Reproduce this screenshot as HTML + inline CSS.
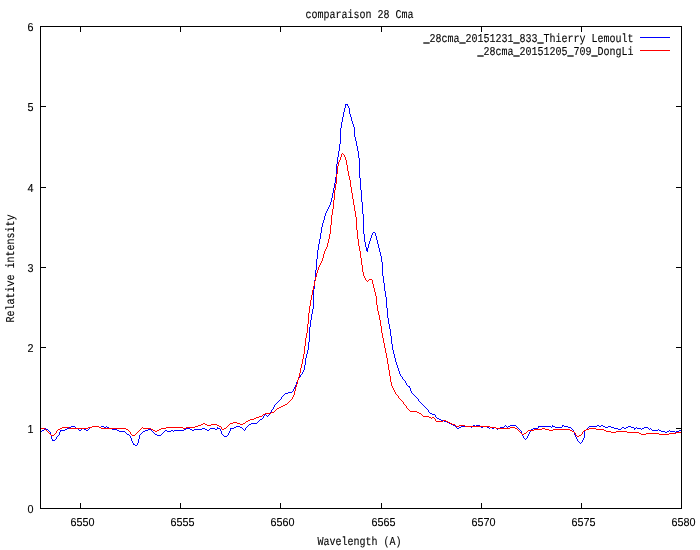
<!DOCTYPE html>
<html lang="fr"><head><meta charset="utf-8"><title>comparaison 28 Cma</title>
<style>
html,body{margin:0;padding:0;background:#fff;}
body{width:700px;height:550px;overflow:hidden;}
svg{display:block;}
text{font-family:"Liberation Mono",monospace;font-size:12px;fill:#000;stroke:#000;stroke-width:.1px;text-rendering:geometricPrecision;}
.u{stroke-width:.45px;}
.n{font-family:"Liberation Sans",sans-serif;font-size:11.5px;}
</style></head><body>
<svg width="700" height="550" viewBox="0 0 700 550">
<rect width="700" height="550" fill="#fff"/>

<path fill="#000" shape-rendering="crispEdges" d="M80,503h1v5h-1zM80,27h1v5h-1zM180,503h1v5h-1zM180,27h1v5h-1zM280,503h1v5h-1zM280,27h1v5h-1zM381,503h1v5h-1zM381,27h1v5h-1zM481,503h1v5h-1zM481,27h1v5h-1zM581,503h1v5h-1zM581,27h1v5h-1zM41,428h5v1h-5zM676,428h5v1h-5zM41,347h5v1h-5zM676,347h5v1h-5zM41,267h5v1h-5zM676,267h5v1h-5zM41,187h5v1h-5zM676,187h5v1h-5zM41,106h5v1h-5zM676,106h5v1h-5z"/>
<path fill="#0000ff" shape-rendering="crispEdges" d="M50,432h1v3h-1zM51,435h1v4h-1zM52,439h1v2h-1zM56,437h1v2h-1zM59,432h1v3h-1zM60,430h1v2h-1zM130,436h1v2h-1zM131,438h1v3h-1zM132,441h1v2h-1zM133,443h1v2h-1zM137,443h1v2h-1zM138,439h1v4h-1zM139,435h1v4h-1zM217,427h1v2h-1zM220,429h1v2h-1zM221,431h1v3h-1zM228,433h1v2h-1zM229,431h1v2h-1zM230,428h1v3h-1zM245,428h1v2h-1zM263,416h1v2h-1zM270,412h1v2h-1zM271,410h1v2h-1zM273,407h1v2h-1zM274,405h1v2h-1zM281,397h1v2h-1zM293,389h1v2h-1zM294,387h1v2h-1zM295,385h1v2h-1zM296,382h1v3h-1zM297,380h1v2h-1zM298,378h1v2h-1zM300,375h1v2h-1zM302,372h1v2h-1zM303,370h1v2h-1zM304,365h1v5h-1zM305,358h1v7h-1zM306,354h1v4h-1zM307,350h1v4h-1zM308,342h1v8h-1zM309,327h1v15h-1zM310,320h1v7h-1zM311,314h1v6h-1zM312,309h1v5h-1zM313,289h1v20h-1zM314,280h1v9h-1zM315,270h1v10h-1zM316,259h1v11h-1zM317,250h1v9h-1zM318,244h1v6h-1zM319,239h1v5h-1zM320,233h1v6h-1zM321,227h1v6h-1zM322,223h1v4h-1zM323,220h1v3h-1zM324,216h1v4h-1zM325,213h1v3h-1zM326,211h1v2h-1zM327,209h1v2h-1zM328,207h1v2h-1zM329,205h1v2h-1zM330,202h1v3h-1zM331,198h1v4h-1zM332,193h1v5h-1zM333,188h1v5h-1zM334,183h1v5h-1zM335,177h1v6h-1zM336,164h1v13h-1zM337,157h1v7h-1zM338,151h1v6h-1zM339,144h1v7h-1zM340,128h1v16h-1zM341,122h1v6h-1zM342,117h1v5h-1zM343,112h1v5h-1zM344,108h1v4h-1zM345,104h1v4h-1zM347,104h1v2h-1zM348,106h1v2h-1zM349,108h1v6h-1zM350,114h1v3h-1zM351,117h1v4h-1zM352,121h1v3h-1zM353,124h1v3h-1zM354,127h1v10h-1zM355,137h1v4h-1zM356,141h1v5h-1zM357,146h1v5h-1zM358,151h1v7h-1zM359,158h1v20h-1zM360,178h1v12h-1zM361,190h1v12h-1zM362,202h1v12h-1zM363,214h1v20h-1zM364,234h1v8h-1zM365,242h1v5h-1zM366,247h1v4h-1zM367,248h1v4h-1zM368,244h1v4h-1zM369,241h1v3h-1zM370,238h1v3h-1zM371,235h1v3h-1zM372,233h1v2h-1zM375,233h1v3h-1zM376,236h1v4h-1zM377,240h1v4h-1zM378,244h1v4h-1zM379,248h1v4h-1zM380,252h1v4h-1zM381,256h1v6h-1zM382,262h1v14h-1zM383,276h1v7h-1zM384,283h1v8h-1zM385,291h1v6h-1zM386,297h1v11h-1zM387,308h1v10h-1zM388,318h1v6h-1zM389,324h1v5h-1zM390,329h1v7h-1zM391,336h1v8h-1zM392,344h1v6h-1zM393,350h1v4h-1zM394,354h1v4h-1zM395,358h1v4h-1zM396,362h1v3h-1zM397,365h1v3h-1zM398,368h1v3h-1zM399,371h1v3h-1zM400,374h1v2h-1zM402,377h1v2h-1zM405,381h1v2h-1zM406,383h1v2h-1zM409,386h1v2h-1zM410,388h1v3h-1zM411,391h1v2h-1zM418,399h1v2h-1zM428,410h1v2h-1zM435,415h1v2h-1zM521,431h1v3h-1zM522,434h1v2h-1zM523,436h1v2h-1zM527,436h1v2h-1zM528,434h1v2h-1zM529,432h1v2h-1zM530,430h1v2h-1zM538,426h1v2h-1zM552,425h1v2h-1zM562,425h1v2h-1zM573,430h1v2h-1zM574,432h1v3h-1zM575,435h1v2h-1zM576,437h1v2h-1zM577,439h1v2h-1zM582,440h1v2h-1zM583,438h1v2h-1zM584,431h1v7h-1zM634,428h1v2h-1zM346,104h1v1h-1zM373,232h2v1h-2zM301,374h1v1h-1zM401,376h1v1h-1zM299,377h1v1h-1zM403,379h1v1h-1zM404,380h1v1h-1zM407,385h1v1h-1zM408,386h1v1h-1zM292,391h1v1h-1zM288,392h4v1h-4zM285,393h3v1h-3zM412,393h1v1h-1zM284,394h1v1h-1zM413,394h1v1h-1zM283,395h1v1h-1zM414,395h1v1h-1zM282,396h1v1h-1zM415,396h1v1h-1zM416,397h1v1h-1zM417,398h1v1h-1zM280,399h1v1h-1zM279,400h1v1h-1zM278,401h1v1h-1zM419,401h1v1h-1zM277,402h1v1h-1zM420,402h1v1h-1zM276,403h1v1h-1zM421,403h1v1h-1zM275,404h1v1h-1zM422,404h1v1h-1zM423,405h1v1h-1zM424,406h1v1h-1zM425,407h1v1h-1zM426,408h1v1h-1zM272,409h1v1h-1zM427,409h1v1h-1zM429,412h1v1h-1zM430,413h2v1h-2zM265,414h1v1h-1zM269,414h1v1h-1zM432,414h3v1h-3zM264,415h1v1h-1zM266,415h1v1h-1zM268,415h1v1h-1zM267,416h1v1h-1zM436,417h1v1h-1zM262,418h1v1h-1zM437,418h2v1h-2zM260,419h2v1h-2zM439,419h2v1h-2zM259,420h1v1h-1zM441,420h3v1h-3zM258,421h1v1h-1zM444,421h3v1h-3zM257,422h1v1h-1zM447,422h2v1h-2zM251,423h6v1h-6zM449,423h2v1h-2zM249,424h2v1h-2zM451,424h2v1h-2zM248,425h1v1h-1zM453,425h2v1h-2zM473,425h2v1h-2zM476,425h4v1h-4zM505,425h1v1h-1zM510,425h6v1h-6zM563,425h1v1h-1zM597,425h2v1h-2zM601,425h2v1h-2zM71,426h4v1h-4zM92,426h7v1h-7zM101,426h3v1h-3zM106,426h1v1h-1zM236,426h4v1h-4zM247,426h1v1h-1zM455,426h1v1h-1zM461,426h10v1h-10zM472,426h1v1h-1zM475,426h1v1h-1zM480,426h1v1h-1zM483,426h4v1h-4zM504,426h1v1h-1zM506,426h1v1h-1zM508,426h2v1h-2zM516,426h1v1h-1zM539,426h12v1h-12zM553,426h2v1h-2zM564,426h4v1h-4zM589,426h8v1h-8zM599,426h2v1h-2zM603,426h2v1h-2zM608,426h3v1h-3zM628,426h3v1h-3zM69,427h2v1h-2zM75,427h1v1h-1zM90,427h2v1h-2zM99,427h2v1h-2zM104,427h2v1h-2zM107,427h2v1h-2zM234,427h2v1h-2zM240,427h2v1h-2zM246,427h1v1h-1zM456,427h1v1h-1zM459,427h2v1h-2zM471,427h1v1h-1zM481,427h2v1h-2zM487,427h2v1h-2zM490,427h2v1h-2zM494,427h2v1h-2zM500,427h4v1h-4zM507,427h1v1h-1zM517,427h1v1h-1zM551,427h1v1h-1zM555,427h7v1h-7zM568,427h3v1h-3zM588,427h1v1h-1zM605,427h3v1h-3zM611,427h3v1h-3zM622,427h2v1h-2zM626,427h2v1h-2zM631,427h3v1h-3zM636,427h1v1h-1zM644,427h4v1h-4zM45,428h1v1h-1zM67,428h2v1h-2zM76,428h2v1h-2zM82,428h2v1h-2zM89,428h1v1h-1zM109,428h3v1h-3zM186,428h4v1h-4zM202,428h3v1h-3zM210,428h5v1h-5zM218,428h2v1h-2zM231,428h3v1h-3zM242,428h1v1h-1zM457,428h2v1h-2zM489,428h1v1h-1zM492,428h2v1h-2zM496,428h1v1h-1zM498,428h2v1h-2zM518,428h1v1h-1zM533,428h5v1h-5zM571,428h1v1h-1zM587,428h1v1h-1zM614,428h4v1h-4zM621,428h1v1h-1zM624,428h2v1h-2zM635,428h1v1h-1zM637,428h4v1h-4zM642,428h2v1h-2zM648,428h1v1h-1zM650,428h1v1h-1zM44,429h1v1h-1zM46,429h2v1h-2zM65,429h2v1h-2zM78,429h1v1h-1zM81,429h1v1h-1zM84,429h2v1h-2zM88,429h1v1h-1zM112,429h5v1h-5zM148,429h3v1h-3zM184,429h2v1h-2zM190,429h2v1h-2zM194,429h8v1h-8zM205,429h2v1h-2zM209,429h1v1h-1zM215,429h2v1h-2zM243,429h1v1h-1zM497,429h1v1h-1zM519,429h1v1h-1zM531,429h2v1h-2zM572,429h1v1h-1zM586,429h1v1h-1zM618,429h3v1h-3zM641,429h1v1h-1zM649,429h1v1h-1zM651,429h1v1h-1zM658,429h1v1h-1zM681,429h1v1h-1zM42,430h2v1h-2zM48,430h1v1h-1zM61,430h4v1h-4zM79,430h2v1h-2zM86,430h2v1h-2zM117,430h2v1h-2zM145,430h3v1h-3zM151,430h1v1h-1zM165,430h2v1h-2zM171,430h2v1h-2zM174,430h10v1h-10zM192,430h2v1h-2zM207,430h2v1h-2zM244,430h1v1h-1zM520,430h1v1h-1zM585,430h1v1h-1zM652,430h6v1h-6zM659,430h2v1h-2zM669,430h1v1h-1zM679,430h2v1h-2zM41,431h1v1h-1zM49,431h1v1h-1zM119,431h6v1h-6zM143,431h2v1h-2zM152,431h1v1h-1zM164,431h1v1h-1zM167,431h4v1h-4zM173,431h1v1h-1zM661,431h4v1h-4zM667,431h2v1h-2zM670,431h5v1h-5zM676,431h3v1h-3zM40,432h1v1h-1zM125,432h1v1h-1zM142,432h1v1h-1zM153,432h1v1h-1zM163,432h1v1h-1zM665,432h2v1h-2zM675,432h1v1h-1zM126,433h1v1h-1zM141,433h1v1h-1zM154,433h1v1h-1zM162,433h1v1h-1zM127,434h2v1h-2zM140,434h1v1h-1zM155,434h2v1h-2zM161,434h1v1h-1zM222,434h1v1h-1zM58,435h1v1h-1zM129,435h1v1h-1zM157,435h4v1h-4zM223,435h1v1h-1zM227,435h1v1h-1zM57,436h1v1h-1zM224,436h3v1h-3zM524,438h1v1h-1zM526,438h1v1h-1zM55,439h1v1h-1zM525,439h1v1h-1zM53,440h2v1h-2zM578,441h1v1h-1zM579,442h1v1h-1zM581,442h1v1h-1zM580,443h1v1h-1zM134,444h1v1h-1zM135,445h2v1h-2z"/>
<path fill="#ff0000" shape-rendering="crispEdges" d="M56,431h1v2h-1zM130,432h1v2h-1zM221,427h1v2h-1zM292,397h1v2h-1zM293,395h1v2h-1zM294,391h1v4h-1zM295,387h1v4h-1zM296,384h1v3h-1zM297,380h1v4h-1zM298,377h1v3h-1zM299,373h1v4h-1zM300,368h1v5h-1zM301,364h1v4h-1zM302,359h1v5h-1zM303,354h1v5h-1zM304,346h1v8h-1zM305,338h1v8h-1zM306,333h1v5h-1zM307,324h1v9h-1zM308,313h1v11h-1zM309,306h1v7h-1zM310,300h1v6h-1zM311,295h1v5h-1zM312,290h1v5h-1zM313,286h1v4h-1zM314,281h1v5h-1zM315,277h1v4h-1zM316,273h1v4h-1zM317,270h1v3h-1zM318,267h1v3h-1zM319,265h1v2h-1zM320,263h1v2h-1zM321,261h1v2h-1zM322,258h1v3h-1zM323,254h1v4h-1zM324,251h1v3h-1zM325,249h1v2h-1zM326,247h1v2h-1zM327,243h1v4h-1zM328,239h1v4h-1zM329,234h1v5h-1zM330,225h1v9h-1zM331,215h1v10h-1zM332,209h1v6h-1zM333,200h1v9h-1zM334,190h1v10h-1zM335,184h1v6h-1zM336,174h1v10h-1zM337,166h1v8h-1zM338,162h1v4h-1zM339,160h1v2h-1zM340,157h1v3h-1zM341,154h1v3h-1zM344,155h1v2h-1zM345,157h1v3h-1zM346,160h1v5h-1zM347,165h1v6h-1zM348,171h1v5h-1zM349,176h1v4h-1zM350,180h1v7h-1zM351,187h1v6h-1zM352,193h1v6h-1zM353,199h1v6h-1zM354,205h1v6h-1zM355,211h1v6h-1zM356,217h1v13h-1zM357,230h1v9h-1zM358,239h1v7h-1zM359,246h1v5h-1zM360,251h1v7h-1zM361,258h1v7h-1zM362,265h1v7h-1zM363,272h1v4h-1zM364,276h1v2h-1zM365,278h1v2h-1zM372,280h1v4h-1zM373,284h1v4h-1zM374,288h1v4h-1zM375,292h1v4h-1zM376,296h1v9h-1zM377,305h1v6h-1zM378,311h1v4h-1zM379,315h1v5h-1zM380,320h1v6h-1zM381,326h1v7h-1zM382,333h1v5h-1zM383,338h1v5h-1zM384,343h1v5h-1zM385,348h1v5h-1zM386,353h1v5h-1zM387,358h1v6h-1zM388,364h1v6h-1zM389,370h1v6h-1zM390,376h1v6h-1zM391,382h1v4h-1zM392,386h1v2h-1zM393,388h1v2h-1zM394,390h1v2h-1zM395,392h1v2h-1zM398,396h1v2h-1zM403,402h1v2h-1zM406,406h1v2h-1zM435,419h1v2h-1zM575,433h1v2h-1zM582,432h1v2h-1zM342,153h1v1h-1zM343,154h1v1h-1zM369,279h3v1h-3zM366,280h1v1h-1zM368,280h1v1h-1zM367,281h1v1h-1zM396,394h1v1h-1zM397,395h1v1h-1zM399,398h1v1h-1zM291,399h1v1h-1zM400,399h1v1h-1zM290,400h1v1h-1zM401,400h1v1h-1zM289,401h1v1h-1zM402,401h1v1h-1zM288,402h1v1h-1zM287,403h1v1h-1zM285,404h2v1h-2zM404,404h1v1h-1zM283,405h2v1h-2zM405,405h1v1h-1zM281,406h2v1h-2zM279,407h2v1h-2zM277,408h2v1h-2zM407,408h1v1h-1zM276,409h1v1h-1zM408,409h1v1h-1zM275,410h1v1h-1zM409,410h1v1h-1zM274,411h1v1h-1zM410,411h7v1h-7zM271,412h3v1h-3zM417,412h2v1h-2zM265,413h6v1h-6zM419,413h2v1h-2zM263,414h2v1h-2zM421,414h1v1h-1zM262,415h1v1h-1zM422,415h1v1h-1zM259,416h3v1h-3zM423,416h6v1h-6zM256,417h3v1h-3zM429,417h2v1h-2zM432,417h2v1h-2zM254,418h2v1h-2zM431,418h1v1h-1zM434,418h1v1h-1zM250,419h4v1h-4zM248,420h2v1h-2zM443,420h3v1h-3zM246,421h2v1h-2zM436,421h7v1h-7zM446,421h2v1h-2zM233,422h4v1h-4zM245,422h1v1h-1zM448,422h2v1h-2zM203,423h2v1h-2zM230,423h3v1h-3zM237,423h3v1h-3zM243,423h2v1h-2zM450,423h2v1h-2zM201,424h2v1h-2zM205,424h2v1h-2zM211,424h6v1h-6zM229,424h1v1h-1zM240,424h3v1h-3zM452,424h3v1h-3zM198,425h3v1h-3zM207,425h4v1h-4zM217,425h2v1h-2zM228,425h1v1h-1zM455,425h1v1h-1zM459,425h6v1h-6zM92,426h7v1h-7zM195,426h3v1h-3zM219,426h2v1h-2zM227,426h1v1h-1zM456,426h3v1h-3zM465,426h25v1h-25zM62,427h7v1h-7zM88,427h4v1h-4zM99,427h2v1h-2zM142,427h1v1h-1zM166,427h17v1h-17zM186,427h9v1h-9zM226,427h1v1h-1zM490,427h6v1h-6zM510,427h5v1h-5zM40,428h5v1h-5zM60,428h2v1h-2zM69,428h19v1h-19zM101,428h25v1h-25zM141,428h1v1h-1zM143,428h8v1h-8zM161,428h5v1h-5zM183,428h3v1h-3zM224,428h2v1h-2zM496,428h14v1h-14zM515,428h2v1h-2zM542,428h3v1h-3zM589,428h7v1h-7zM45,429h1v1h-1zM58,429h2v1h-2zM126,429h2v1h-2zM140,429h1v1h-1zM151,429h2v1h-2zM159,429h2v1h-2zM222,429h2v1h-2zM517,429h1v1h-1zM534,429h8v1h-8zM545,429h4v1h-4zM553,429h17v1h-17zM586,429h3v1h-3zM596,429h8v1h-8zM46,430h1v1h-1zM57,430h1v1h-1zM128,430h1v1h-1zM139,430h1v1h-1zM153,430h2v1h-2zM157,430h2v1h-2zM518,430h1v1h-1zM528,430h6v1h-6zM549,430h4v1h-4zM570,430h2v1h-2zM584,430h2v1h-2zM604,430h2v1h-2zM47,431h1v1h-1zM129,431h1v1h-1zM138,431h1v1h-1zM155,431h2v1h-2zM519,431h1v1h-1zM527,431h1v1h-1zM572,431h2v1h-2zM583,431h1v1h-1zM606,431h5v1h-5zM616,431h11v1h-11zM48,432h1v1h-1zM137,432h1v1h-1zM520,432h1v1h-1zM526,432h1v1h-1zM574,432h1v1h-1zM611,432h5v1h-5zM627,432h12v1h-12zM676,432h6v1h-6zM49,433h1v1h-1zM55,433h1v1h-1zM136,433h1v1h-1zM521,433h1v1h-1zM524,433h2v1h-2zM639,433h2v1h-2zM646,433h13v1h-13zM669,433h7v1h-7zM50,434h1v1h-1zM54,434h1v1h-1zM131,434h1v1h-1zM135,434h1v1h-1zM522,434h2v1h-2zM581,434h1v1h-1zM641,434h5v1h-5zM659,434h10v1h-10zM51,435h3v1h-3zM132,435h3v1h-3zM576,435h1v1h-1zM579,435h2v1h-2zM577,436h2v1h-2z"/>
<rect x="640" y="37" width="30" height="1" fill="#0000ff" shape-rendering="crispEdges"/>
<rect x="640" y="50" width="30" height="1" fill="#ff0000" shape-rendering="crispEdges"/>
<path fill="#000" fill-rule="evenodd" shape-rendering="crispEdges" d="M40,26H682V509H40ZM41,27V508H681V27Z"/>
<text transform="translate(305.6,18) scale(0.8332,1)">comparaison 28 Cma</text>
<text transform="translate(423.6,42) scale(0.8332,1)"><tspan class="u">_</tspan>28cma<tspan class="u">_</tspan>20151231<tspan class="u">_</tspan>833<tspan class="u">_</tspan>Thierry Lemoult</text>
<text transform="translate(477.6,55) scale(0.8332,1)"><tspan class="u">_</tspan>28cma<tspan class="u">_</tspan>20151205<tspan class="u">_</tspan>709<tspan class="u">_</tspan>DongLi</text>
<text class="n" transform="translate(70.55,526) scale(0.9381,1)">6550</text>
<text class="n" transform="translate(170.55,526) scale(0.9381,1)">6555</text>
<text class="n" transform="translate(270.55,526) scale(0.9381,1)">6560</text>
<text class="n" transform="translate(371.55,526) scale(0.9381,1)">6565</text>
<text class="n" transform="translate(471.55,526) scale(0.9381,1)">6570</text>
<text class="n" transform="translate(571.55,526) scale(0.9381,1)">6575</text>
<text class="n" transform="translate(671.55,526) scale(0.9381,1)">6580</text>
<text class="n" transform="translate(27.55,513) scale(0.9381,1)">0</text>
<text class="n" transform="translate(27.55,433) scale(0.9381,1)">1</text>
<text class="n" transform="translate(27.55,352) scale(0.9381,1)">2</text>
<text class="n" transform="translate(27.55,272) scale(0.9381,1)">3</text>
<text class="n" transform="translate(27.55,192) scale(0.9381,1)">4</text>
<text class="n" transform="translate(27.55,111) scale(0.9381,1)">5</text>
<text class="n" transform="translate(27.55,31) scale(0.9381,1)">6</text>
<text transform="translate(317.6,545) scale(0.8332,1)">Wavelength (A)</text>
<text transform="translate(14,322.4) rotate(-90) scale(0.8332,1)">Relative intensity</text>
</svg></body></html>
